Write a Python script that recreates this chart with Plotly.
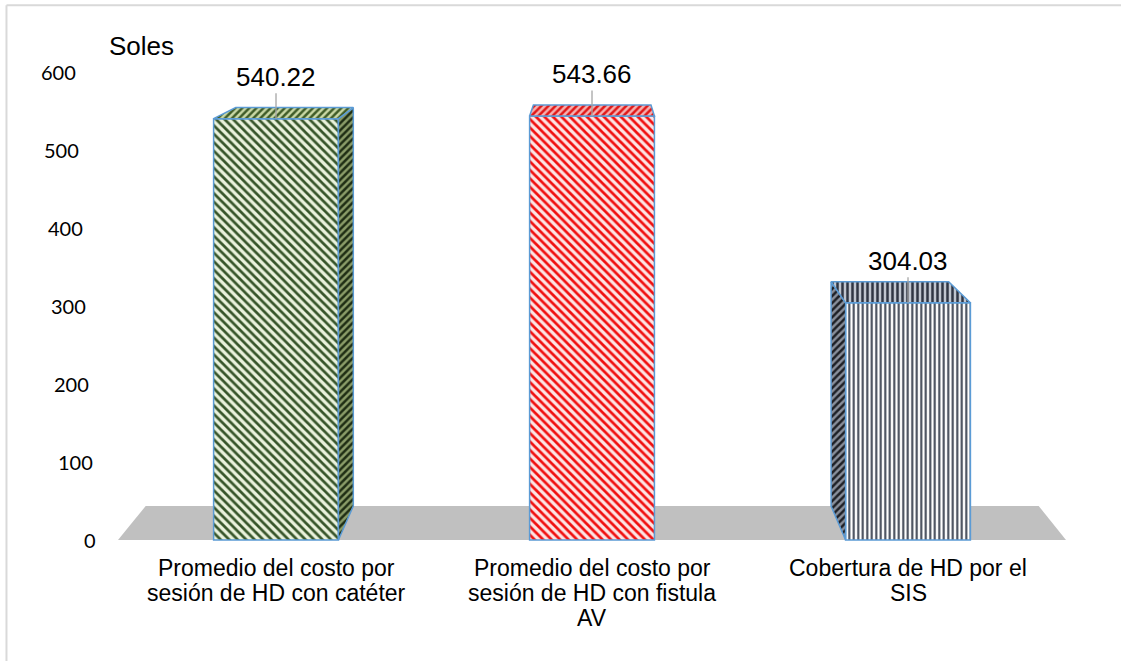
import plotly.graph_objects as go

# ---------------- data ----------------
categories = [
    "Promedio del costo por<br>sesión de HD con catéter",
    "Promedio del costo por<br>sesión de HD con fistula<br>AV",
    "Cobertura de HD por el<br>SIS",
]
values = [540.22, 543.66, 304.03]
value_labels = ["540.22", "543.66", "304.03"]
y_ticks = [0, 100, 200, 300, 400, 500, 600]
y_title = "Soles"

# ---------------- styles ----------------
front_fg = ["#37552a", "#f01010", "#3c4352"]
front_bg = ["#eaf2dc", "#fde4e4", "#ffffff"]
front_shape = ["\\", "\\", "|"]
front_size = [6, 6, 4.5]
side_fg = ["#1f2e14", "#a00000", "#1e2026"]
side_bg = ["#8a9c68", "#f08080", "#8a909c"]
top_fg = ["#3f5c28", "#e01818", "#2f3644"]
top_bg = ["#c9d8a6", "#f6b0b0", "#c0c6d0"]
EDGE = "#5b9bd5"
FONT = "Arial, Liberation Sans, sans-serif"

# pseudo-3D geometry (axis units)
BAR_W = 0.395
XV = 1.01        # horizontal vanishing position
PERSP = 0.058    # horizontal shift factor of back edges
D0 = 43.6        # depth (y units) at floor level
DS = 0.0544      # depth shrink per y unit


def depth(v):
    return D0 - DS * v


fig = go.Figure()

# front faces (real bars)
for i, v in enumerate(values):
    fig.add_trace(go.Bar(
        x=[i], y=[v], width=BAR_W,
        marker=dict(
            color=front_bg[i],
            line=dict(color=EDGE, width=1.5),
            pattern=dict(shape=front_shape[i], fgcolor=front_fg[i], bgcolor=front_bg[i],
                         size=front_size[i], solidity=0.45, fillmode="replace"),
        ),
        showlegend=False, hoverinfo="skip",
    ))

# top and side faces
for i, v in enumerate(values):
    xl, xr = i - BAR_W / 2, i + BAR_W / 2
    dxl, dxr = PERSP * (XV - xl), PERSP * (XV - xr)
    dv, d0 = depth(v), depth(0)
    polys = []
    if dxr > 0:
        polys.append(([xr, xr + dxr, xr + dxr, xr, xr], [0, d0, v + dv, v, 0], side_fg[i], side_bg[i], "/"))
    if dxl < 0:
        polys.append(([xl, xl + dxl, xl + dxl, xl, xl], [0, d0, v + dv, v, 0], side_fg[i], side_bg[i], "/"))
    polys.append(([xl, xr, xr + dxr, xl + dxl, xl], [v, v, v + dv, v + dv, v], top_fg[i], top_bg[i],
                  "|" if front_shape[i] == "|" else "/"))
    for px, py, fg, bg, shp in polys:
        fig.add_trace(go.Scatter(
            x=px, y=py, mode="lines", fill="toself", fillcolor=bg,
            fillpattern=dict(shape=shp, fgcolor=fg, bgcolor=bg, size=5, solidity=0.5, fillmode="replace"),
            line=dict(color=EDGE, width=1.5),
            showlegend=False, hoverinfo="skip",
        ))

# floor
n = len(values)
fx0, fx1 = -0.5, n - 0.5
fig.add_shape(
    type="path", xref="x", yref="y", layer="below",
    path=f"M {fx0},0 L {fx1},0 L {fx1 + PERSP * (XV - fx1)},{D0} L {fx0 + PERSP * (XV - fx0)},{D0} Z",
    fillcolor="#c0c0c0", line=dict(width=0),
)

annotations = []
# value labels with leader lines
for i, v in enumerate(values):
    annotations.append(dict(
        x=i, y=v, xref="x", yref="y", text=value_labels[i],
        showarrow=True, ax=0, ay=-42, arrowhead=0, arrowwidth=1.3, arrowcolor="#a6a6a6",
        font=dict(family=FONT, size=26, color="#000000"),
    ))

# y tick labels (slanted like the perspective axis)
TICK_X0 = -0.5633
TICK_SLANT = -(20 / 316) / 600
for t in y_ticks:
    annotations.append(dict(
        x=TICK_X0 + TICK_SLANT * t, y=t, xref="x", yref="y", text=str(t),
        showarrow=False, xanchor="right", yanchor="middle",
        font=dict(family="Lato, Carlito, sans-serif", size=20, color="#000000"),
    ))

# category labels
for i, c in enumerate(categories):
    for k, line in enumerate(c.split("<br>")):
        annotations.append(dict(
            x=i, y=0, xref="x", yref="y", text=line, showarrow=False,
            xanchor="center", yanchor="middle", yshift=-28 - 25 * k,
            font=dict(family=FONT, size=23, color="#000000"),
        ))

# axis title
annotations.append(dict(
    x=0.0882, y=0.9415, xref="paper", yref="paper", text=y_title, showarrow=False,
    xanchor="left", yanchor="middle", font=dict(family=FONT, size=26, color="#000000"),
))

# chart border (top and left visible)
fig.add_shape(type="line", xref="paper", yref="paper", x0=-0.0032, x1=1.02, y0=1.0184, y1=1.0184,
              line=dict(color="#d9d9d9", width=2))
fig.add_shape(type="line", xref="paper", yref="paper", x0=-0.0032, x1=-0.0032, y0=-0.25, y1=1.0184,
              line=dict(color="#d9d9d9", width=2))

fig.update_layout(
    width=1121, height=661,
    margin=dict(l=10, r=11, t=15, b=116),
    paper_bgcolor="white", plot_bgcolor="white",
    annotations=annotations,
    xaxis=dict(range=[-0.8418, 2.6392], visible=False, fixedrange=True),
    yaxis=dict(range=[-6.41, 673.08], visible=False, fixedrange=True),
    barmode="overlay",
    showlegend=False,
)

fig.write_html("out.html")
